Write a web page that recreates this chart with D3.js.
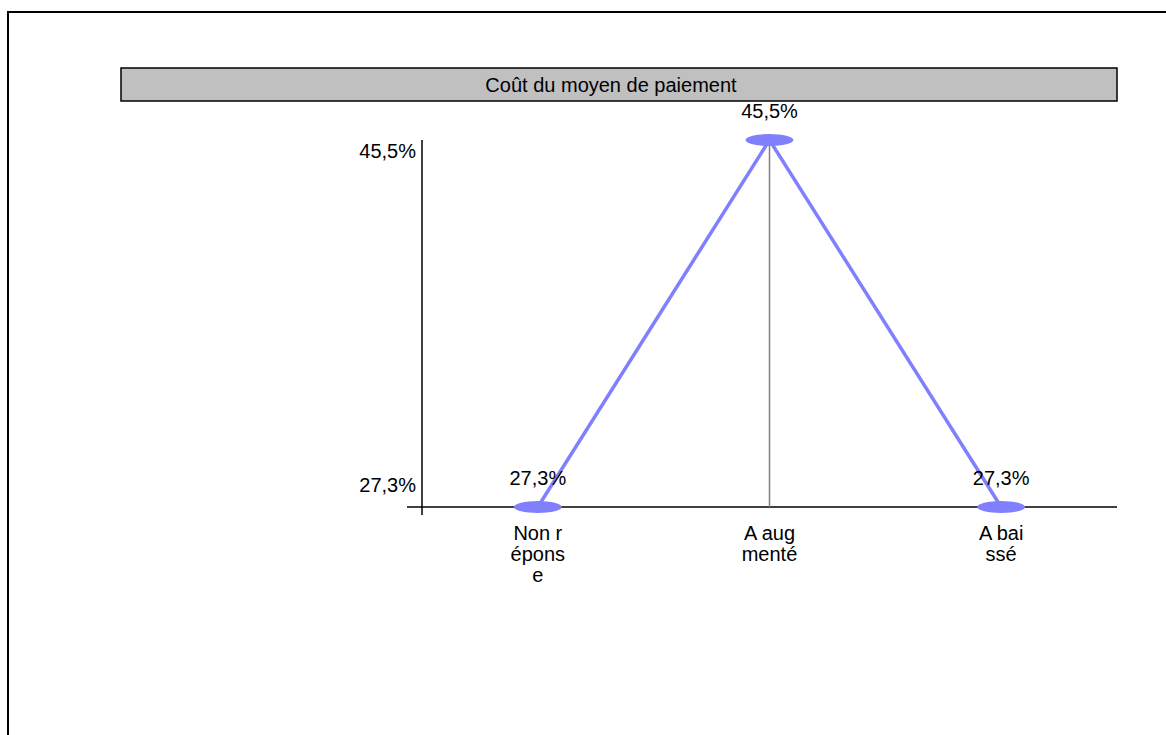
<!DOCTYPE html>
<html>
<head>
<meta charset="utf-8">
<script src="https://cdn.jsdelivr.net/npm/d3@7"></script>
<style>
    body { margin: 0; background: #fff; }
    svg { display: block; font-family: "Liberation Sans", Arial, sans-serif; }
</style>
</head>
<body>
<div id="container"></div>
<script>
// chart data
var title = "Coût du moyen de paiement";
var categories = ["Non réponse", "A augmenté", "A baissé"];
var values = [27.3, 45.5, 27.3];
var yTicks = [27.3, 45.5];

function fmt(v) {
    return v.toFixed(1).replace(".", ",") + "%";
}

// labels are cut every 5 characters, like the original
function chunk(s, n) {
    var out = [];
    for (var i = 0; i < s.length; i += n) out.push(s.slice(i, i + n));
    return out;
}

var svgWidth = 1166, svgHeight = 735;

var svg = d3.select("div#container")
    .append("svg")
    .attr("width", svgWidth)
    .attr("height", svgHeight);

// outer frame (runs off the page right and bottom)
svg.append("rect")
    .attr("x", 8)
    .attr("y", 12)
    .attr("width", 1300)
    .attr("height", 900)
    .attr("fill", "none")
    .attr("stroke", "#000")
    .attr("stroke-width", 2);

// title bar
svg.append("rect")
    .attr("x", 121)
    .attr("y", 68)
    .attr("width", 996)
    .attr("height", 33)
    .attr("fill", "#c0c0c0")
    .attr("stroke", "#000")
    .attr("stroke-width", 1.5);

svg.append("text")
    .attr("x", 611)
    .attr("y", 92)
    .attr("text-anchor", "middle")
    .style("font-size", "20px")
    .text(title);

// --- SCALES ---
var x = d3.scaleBand()
    .domain(categories)
    .range([422, 1117]);

var y = d3.scaleLinear()
    .domain([27.3, 45.5])
    .range([507, 140]);

var cx = function (d) { return x(d) + x.bandwidth() / 2; };

// --- AXES ---
// x baseline
svg.append("line")
    .attr("x1", 407)
    .attr("x2", x.range()[1])
    .attr("y1", y(27.3))
    .attr("y2", y(27.3))
    .attr("stroke", "#000")
    .attr("stroke-width", 1.5);

// y axis line
svg.append("line")
    .attr("x1", x.range()[0])
    .attr("x2", x.range()[0])
    .attr("y1", y(45.5))
    .attr("y2", y(27.3) + 8)
    .attr("stroke", "#000")
    .attr("stroke-width", 1.5);

// y tick labels (top one sits below its value, bottom one above)
svg.selectAll("yLabels")
    .data(yTicks)
    .enter()
    .append("text")
    .attr("x", x.range()[0] - 6)
    .attr("y", function (d, i) { return y(d) + (i === 0 ? -15 : 18); })
    .attr("text-anchor", "end")
    .style("font-size", "20px")
    .text(fmt);

// drop line under the highest point
var iMax = values.indexOf(d3.max(values));
svg.append("line")
    .attr("x1", cx(categories[iMax]))
    .attr("x2", cx(categories[iMax]))
    .attr("y1", y(values[iMax]))
    .attr("y2", y(27.3))
    .attr("stroke", "#808080")
    .attr("stroke-width", 1.5);

// --- LINE ---
var line = d3.line()
    .x(function (d, i) { return cx(categories[i]); })
    .y(function (d) { return y(d); });

svg.append("path")
    .datum(values)
    .attr("d", line)
    .attr("fill", "none")
    .attr("stroke", "#8080ff")
    .attr("stroke-width", 3.5);

// --- MARKERS ---
svg.selectAll("marker")
    .data(values)
    .enter()
    .append("ellipse")
    .attr("cx", function (d, i) { return cx(categories[i]); })
    .attr("cy", function (d) { return y(d); })
    .attr("rx", 24)
    .attr("ry", 6)
    .attr("fill", "#8080ff");

// value labels
svg.selectAll("valueLabels")
    .data(values)
    .enter()
    .append("text")
    .attr("x", function (d, i) { return cx(categories[i]); })
    .attr("y", function (d) { return y(d) - 22; })
    .attr("text-anchor", "middle")
    .style("font-size", "20px")
    .text(fmt);

// category labels
var catLabels = svg.selectAll("catLabels")
    .data(categories)
    .enter()
    .append("text")
    .attr("text-anchor", "middle")
    .style("font-size", "20px");

catLabels.selectAll("tspan")
    .data(function (d) { return chunk(d, 5).map(function (s) { return { cat: d, s: s }; }); })
    .enter()
    .append("tspan")
    .attr("x", function (d) { return cx(d.cat); })
    .attr("y", function (d, i) { return y(27.3) + 33 + i * 21; })
    .text(function (d) { return d.s; });
</script>
</body>
</html>
